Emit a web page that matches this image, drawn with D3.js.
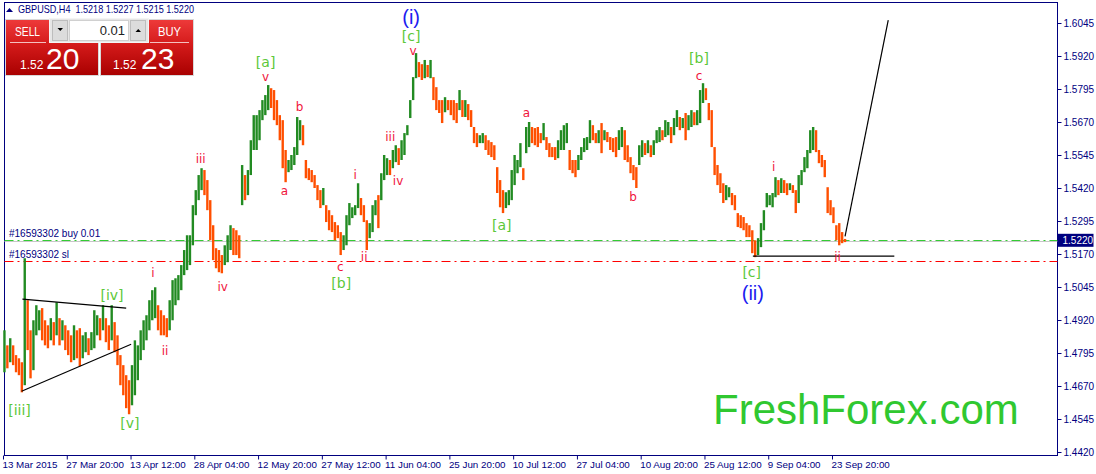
<!DOCTYPE html>
<html><head><meta charset="utf-8">
<script src="https://cdn.jsdelivr.net/npm/d3@7"></script>
<style>body{margin:0;background:#fff}svg{display:block}text{font-family:"Liberation Sans",Arial,sans-serif}</style>
</head><body><svg id="c" width="1096" height="474"></svg>
<script>
const symbolTitle = "GBPUSD,H4  1.5218 1.5227 1.5215 1.5220";
const timeLabels = ["13 Mar 2015","27 Mar 20:00","13 Apr 12:00","28 Apr 04:00","12 May 20:00","27 May 12:00","11 Jun 04:00","25 Jun 20:00","10 Jul 12:00","27 Jul 04:00","10 Aug 20:00","25 Aug 12:00","9 Sep 04:00","23 Sep 20:00"];
const tickBars = [0,22,44,66,88,110,132,154,176,198,220,242,264,286];
const priceTicks = [1.4420,1.4545,1.4670,1.4795,1.4920,1.5045,1.5170,1.5295,1.5420,1.5545,1.5670,1.5795,1.5920,1.6045];
const highs = [
1.4881,1.4824,1.4851,1.4824,1.4787,1.4775,1.4760,1.5154,1.4995,1.4881,
1.4919,1.4976,1.4957,1.4965,1.4919,1.4900,1.4927,1.4912,1.4987,1.4927,
1.4919,1.4900,1.4881,1.4862,1.4900,1.4881,1.4889,1.4862,1.4874,1.4851,
1.4874,1.4957,1.4938,1.4927,1.4976,1.4927,1.4900,1.4976,1.4912,1.4862,
1.4787,1.4749,1.4711,1.4692,1.4749,1.4843,1.4824,1.4881,1.4919,1.4938,
1.4995,1.5033,1.5044,1.4976,1.4957,1.4938,1.4927,1.4995,1.5071,1.5078,
1.5090,1.5128,1.5185,1.5241,1.5241,1.5355,1.5412,1.5469,1.5495,1.5488,
1.5450,1.5374,1.5279,1.5192,1.5185,1.5166,1.5203,1.5241,1.5279,1.5268,
1.5260,1.5241,1.5507,1.5469,1.5488,1.5601,1.5696,1.5696,1.5715,1.5753,
1.5772,1.5810,1.5798,1.5791,1.5753,1.5696,1.5677,1.5564,1.5526,1.5545,
1.5575,1.5689,1.5677,1.5658,1.5526,1.5495,1.5488,1.5469,1.5431,1.5412,
1.5420,1.5355,1.5336,1.5317,1.5291,1.5279,1.5253,1.5241,1.5317,1.5363,
1.5347,1.5355,1.5438,1.5382,1.5355,1.5298,1.5287,1.5355,1.5374,1.5393,
1.5476,1.5545,1.5533,1.5526,1.5564,1.5582,1.5571,1.5601,1.5628,1.5658,
1.5753,1.5840,1.5931,1.5897,1.5889,1.5905,1.5886,1.5905,1.5840,1.5802,
1.5753,1.5753,1.5764,1.5753,1.5753,1.5753,1.5742,1.5791,1.5753,1.5753,
1.5738,1.5715,1.5651,1.5628,1.5620,1.5628,1.5620,1.5601,1.5594,1.5582,
1.5499,1.5450,1.5412,1.5404,1.5412,1.5488,1.5545,1.5526,1.5590,1.5495,
1.5651,1.5670,1.5651,1.5647,1.5651,1.5628,1.5666,1.5613,1.5590,1.5575,
1.5575,1.5601,1.5639,1.5658,1.5666,1.5564,1.5526,1.5526,1.5545,1.5575,
1.5609,1.5613,1.5677,1.5658,1.5628,1.5639,1.5666,1.5639,1.5632,1.5613,
1.5609,1.5613,1.5639,1.5651,1.5639,1.5582,1.5537,1.5507,1.5499,1.5582,
1.5601,1.5590,1.5601,1.5582,1.5601,1.5639,1.5651,1.5639,1.5677,1.5670,
1.5651,1.5685,1.5715,1.5689,1.5685,1.5704,1.5696,1.5715,1.5707,1.5715,
1.5791,1.5817,1.5798,1.5742,1.5715,1.5575,1.5507,1.5476,1.5438,1.5431,
1.5423,1.5401,1.5393,1.5325,1.5317,1.5310,1.5287,1.5279,1.5260,1.5222,
1.5230,1.5287,1.5336,1.5401,1.5393,1.5401,1.5461,1.5450,1.5457,1.5450,
1.5438,1.5438,1.5431,1.5412,1.5469,1.5488,1.5537,1.5564,1.5639,1.5651,
1.5639,1.5564,1.5545,1.5526,1.5423,1.5374,1.5347,1.5279,1.5287,1.5253,1.5227];
const lows = [
1.4722,1.4737,1.4760,1.4749,1.4722,1.4711,1.4646,1.4673,1.4806,1.4699,
1.4730,1.4862,1.4881,1.4843,1.4824,1.4813,1.4843,1.4824,1.4862,1.4824,
1.4843,1.4806,1.4787,1.4760,1.4768,1.4775,1.4745,1.4775,1.4798,1.4787,
1.4806,1.4813,1.4862,1.4843,1.4881,1.4836,1.4806,1.4843,1.4798,1.4749,
1.4673,1.4635,1.4586,1.4563,1.4597,1.4635,1.4692,1.4768,1.4806,1.4843,
1.4881,1.4919,1.4927,1.4881,1.4862,1.4862,1.4855,1.4881,1.4919,1.4976,
1.4995,1.5033,1.5090,1.5109,1.5128,1.5203,1.5317,1.5374,1.5412,1.5393,
1.5336,1.5222,1.5147,1.5116,1.5101,1.5097,1.5128,1.5139,1.5185,1.5166,
1.5166,1.5154,1.5355,1.5374,1.5393,1.5469,1.5564,1.5564,1.5601,1.5677,
1.5696,1.5715,1.5723,1.5677,1.5658,1.5601,1.5495,1.5442,1.5480,1.5488,
1.5507,1.5545,1.5601,1.5582,1.5457,1.5450,1.5442,1.5420,1.5374,1.5344,
1.5355,1.5291,1.5260,1.5253,1.5222,1.5230,1.5166,1.5185,1.5203,1.5279,
1.5306,1.5317,1.5344,1.5317,1.5291,1.5185,1.5230,1.5253,1.5317,1.5268,
1.5374,1.5450,1.5469,1.5469,1.5495,1.5518,1.5507,1.5526,1.5545,1.5620,
1.5685,1.5753,1.5836,1.5840,1.5829,1.5836,1.5840,1.5836,1.5753,1.5715,
1.5704,1.5666,1.5707,1.5715,1.5696,1.5677,1.5666,1.5715,1.5689,1.5689,
1.5677,1.5651,1.5590,1.5575,1.5590,1.5590,1.5564,1.5545,1.5537,1.5526,
1.5401,1.5347,1.5325,1.5344,1.5355,1.5374,1.5431,1.5476,1.5499,1.5450,
1.5552,1.5575,1.5590,1.5582,1.5575,1.5590,1.5601,1.5564,1.5537,1.5537,
1.5526,1.5533,1.5564,1.5564,1.5590,1.5488,1.5476,1.5461,1.5488,1.5526,
1.5556,1.5564,1.5590,1.5601,1.5590,1.5590,1.5552,1.5601,1.5594,1.5564,
1.5556,1.5537,1.5564,1.5575,1.5526,1.5518,1.5476,1.5450,1.5420,1.5507,
1.5537,1.5545,1.5552,1.5537,1.5545,1.5590,1.5594,1.5601,1.5613,1.5620,
1.5590,1.5620,1.5651,1.5639,1.5647,1.5601,1.5639,1.5651,1.5658,1.5658,
1.5666,1.5742,1.5753,1.5677,1.5575,1.5469,1.5431,1.5401,1.5363,1.5374,
1.5385,1.5355,1.5336,1.5272,1.5268,1.5260,1.5234,1.5234,1.5173,1.5158,
1.5166,1.5196,1.5260,1.5347,1.5355,1.5347,1.5385,1.5393,1.5401,1.5401,
1.5393,1.5412,1.5401,1.5325,1.5363,1.5431,1.5480,1.5495,1.5552,1.5564,
1.5556,1.5514,1.5499,1.5461,1.5325,1.5317,1.5287,1.5222,1.5203,1.5211,1.5215];
const bidPrice = 1.5220;
const buyPrice = 1.5224;
const slPrice = 1.5143;
const orderLabels = ["#16593302 buy 0.01", "#16593302 sl"];
const supportLine = [[258.7, 1.5162], [307.5, 1.5162]];
const triangleUpper = [[6.7, 1.4999], [42.5, 1.4965]];
const triangleLower = [[6.4, 1.4650], [44.2, 1.4828]];
const projection = [[290.5, 1.5237], [305.4, 1.6056]];
// [text, bar, price, style]
const waveLabels = [
["(i)",140.8,1.6069,"b"],["[c]",140.8,1.5994,"g"],["v",141.5,1.5940,"r"],
["[a]",90.6,1.5897,"g"],["v",90.6,1.5842,"r"],["b",102.3,1.5726,"r"],["a",97.1,1.5408,"r"],
["iii",68.2,1.5529,"r"],["iv",75.8,1.5044,"r"],["i",51.7,1.5097,"r"],["ii",55.9,1.4802,"r"],
["[iv]",37.6,1.5014,"g"],["[iii]",5.7,1.4578,"g"],["[v]",43.8,1.4529,"g"],
["i",121.5,1.5469,"r"],["iii",133.6,1.5613,"r"],["iv",136.3,1.5446,"r"],
["c",116.4,1.5122,"r"],["[b]",116.7,1.5060,"g"],["ii",124.6,1.5158,"r"],
["[a]",172.1,1.5279,"g"],["a",180.6,1.5704,"r"],["b",217.4,1.5385,"r"],
["[b]",240.1,1.5912,"g"],["c",240.1,1.5844,"r"],["[c]",258.3,1.5101,"g"],
["(ii)",258.7,1.5021,"b"],["i",265.9,1.5499,"r"],["ii",287.9,1.5158,"r"]];
const watermark = "FreshForex.com";

const navy = "#00007f", up = "#228b22", down = "#ff4f00";
const svg = d3.select("#c");
const x = d3.scaleLinear().domain([0, 286]).range([3, 832]);
const y = d3.scaleLinear().domain([1.4420, 1.6045]).range([452, 23]);
const L = 4.5, R = 1057.5, T = 2.5, B = 455.5;

// frame
svg.append("rect").attr("x", L).attr("y", T).attr("width", R - L).attr("height", B - T)
  .attr("fill", "none").attr("stroke", navy).attr("stroke-width", 1);

// watermark
svg.append("text").attr("x", 713).attr("y", 424).attr("font-size", 42).attr("fill", "#30c830").text(watermark);

// bid line and order lines
const hline = (p, color, dash) => {
  const yy = Math.round(y(p)) + 0.5;
  const l = svg.append("line").attr("x1", L).attr("x2", R).attr("y1", yy).attr("y2", yy)
    .attr("stroke", color).attr("stroke-width", 1.2);
  if (dash) l.attr("stroke-dasharray", dash);
};
hline(bidPrice, "#c8c8c8");
hline(buyPrice, "#33cc33", "9,4,2,4");
hline(slPrice, "#ff0000", "9,4,2,4");
svg.append("text").attr("x", 9).attr("y", y(buyPrice) - 3).attr("font-size", 10).attr("fill", navy).text(orderLabels[0]);
svg.append("text").attr("x", 9).attr("y", y(slPrice) - 3).attr("font-size", 10).attr("fill", navy).text(orderLabels[1]);

// bars
const bars = highs.map((h, i) => ({i, h, l: lows[i], m: (h + lows[i]) / 2}));
svg.append("g").selectAll("line").data(bars).join("line")
  .attr("x1", d => x(d.i + 0.5)).attr("x2", d => x(d.i + 0.5))
  .attr("y1", d => y(d.h)).attr("y2", d => y(d.l))
  .attr("stroke", (d, k) => (k === 0 || d.m >= bars[k - 1].m) ? up : down)
  .attr("stroke-width", 2.4);

// drawn lines
const line = d3.line().x(d => x(d[0])).y(d => y(d[1]));
[triangleUpper, triangleLower, projection, supportLine].forEach(p =>
  svg.append("path").attr("d", line(p)).attr("fill", "none").attr("stroke", "#000").attr("stroke-width", 1.2));

// wave labels
const st = {
  g: {size: 14, fill: "#5cc83a", fam: "DejaVu Sans"},
  r: {size: 12, fill: "#f0143c", fam: "DejaVu Sans"},
  b: {size: 20, fill: "#1c1cf0", fam: "Liberation Sans"}
};
svg.append("g").selectAll("text").data(waveLabels).join("text")
  .attr("x", d => x(d[1])).attr("y", d => y(d[2]))
  .attr("text-anchor", "middle").attr("dominant-baseline", "central")
  .style("font-family", d => st[d[3]].fam)
  .attr("font-size", d => st[d[3]].size).attr("fill", d => st[d[3]].fill).text(d => d[0]);

// bottom axis
const ax = svg.append("g").attr("transform", `translate(0,${B})`)
  .call(d3.axisBottom(x).tickValues(tickBars).tickSize(4).tickFormat((d, i) => timeLabels[i]));
ax.select(".domain").remove();
ax.selectAll("line").attr("stroke", navy);
ax.selectAll("text").attr("fill", navy).attr("font-size", 9.8).attr("text-anchor", "start")
  .attr("dx", -1).attr("dy", "0.55em").style("font-family", "Liberation Sans");

// right axis
const ay = svg.append("g").attr("transform", `translate(${R},0)`)
  .call(d3.axisRight(y).tickValues(priceTicks).tickSize(4).tickFormat(d3.format(".4f")));
ay.select(".domain").remove();
ay.selectAll("line").attr("stroke", navy);
ay.selectAll("text").attr("fill", navy).attr("font-size", 10).attr("x", 6).style("font-family", "Liberation Sans");

// current price box
const by = y(bidPrice);
svg.append("rect").attr("x", R).attr("y", by - 7).attr("width", 36).attr("height", 13).attr("fill", "#00007f");
svg.append("text").attr("x", R + 5).attr("y", by).attr("dominant-baseline", "central").attr("font-size", 10)
  .attr("fill", "#fff").text(bidPrice.toFixed(4));

// top-left title and trade panel
svg.append("path").attr("d", "M6,12 L9.5,8 L13,12 Z").attr("fill", navy);
svg.append("text").attr("x", 18).attr("y", 13).attr("font-size", 10.5).attr("fill", navy)
  .attr("textLength", 176).attr("lengthAdjust", "spacingAndGlyphs").style("white-space", "pre").text(symbolTitle);

const defs = svg.append("defs");
const grad = defs.append("linearGradient").attr("id", "rg").attr("x1", 0).attr("x2", 0).attr("y1", 0).attr("y2", 1);
grad.append("stop").attr("offset", 0).attr("stop-color", "#ee3a3a");
grad.append("stop").attr("offset", 0.45).attr("stop-color", "#d41a1a");
grad.append("stop").attr("offset", 1).attr("stop-color", "#a80000");
const panel = svg.append("g");
panel.append("rect").attr("x", 5.5).attr("y", 19.5).attr("width", 93).attr("height", 56).attr("fill", "url(#rg)").attr("stroke", "#d8d8d8");
panel.append("rect").attr("x", 100.5).attr("y", 19.5).attr("width", 93).attr("height", 56).attr("fill", "url(#rg)").attr("stroke", "#d8d8d8");
panel.append("rect").attr("x", 49.5).attr("y", 18.5).attr("width", 99).attr("height", 24).attr("fill", "#e6e6e6").attr("stroke", "#f4f4f4");
panel.append("rect").attr("x", 52.5).attr("y", 20.5).attr("width", 15).attr("height", 20).attr("fill", "#dcdcdc").attr("stroke", "#bdbdbd");
panel.append("rect").attr("x", 130.5).attr("y", 20.5).attr("width", 15).attr("height", 20).attr("fill", "#dcdcdc").attr("stroke", "#bdbdbd");
panel.append("rect").attr("x", 69.5).attr("y", 20.5).attr("width", 59).attr("height", 20).attr("fill", "#fff").attr("stroke", "#d0d0d0");
panel.append("path").attr("d", "M57.5,28 L63,28 L60.25,31 Z").attr("fill", "#000");
panel.append("path").attr("d", "M135.5,32 L141,32 L138.25,29 Z").attr("fill", "#000");
panel.append("text").attr("x", 125).attr("y", 35).attr("text-anchor", "end").attr("font-size", 13).attr("fill", "#222").text("0.01");
panel.append("line").attr("x1", 10).attr("x2", 46).attr("y1", 42.5).attr("y2", 42.5).attr("stroke", "#f4c0c0");
panel.append("line").attr("x1", 150).attr("x2", 189).attr("y1", 42.5).attr("y2", 42.5).attr("stroke", "#f4c0c0");
panel.append("text").attr("x", 15).attr("y", 36).attr("font-size", 13).attr("fill", "#fff")
  .attr("textLength", 25).attr("lengthAdjust", "spacingAndGlyphs").text("SELL");
panel.append("text").attr("x", 158).attr("y", 36).attr("font-size", 13).attr("fill", "#fff")
  .attr("textLength", 23).attr("lengthAdjust", "spacingAndGlyphs").text("BUY");
panel.append("text").attr("x", 20).attr("y", 69).attr("font-size", 12).attr("fill", "#fff").text("1.52");
panel.append("text").attr("x", 46).attr("y", 69).attr("font-size", 30).attr("fill", "#fff").text("20");
panel.append("text").attr("x", 113).attr("y", 69).attr("font-size", 12).attr("fill", "#fff").text("1.52");
panel.append("text").attr("x", 141).attr("y", 69).attr("font-size", 30).attr("fill", "#fff").text("23");
</script></body></html>
